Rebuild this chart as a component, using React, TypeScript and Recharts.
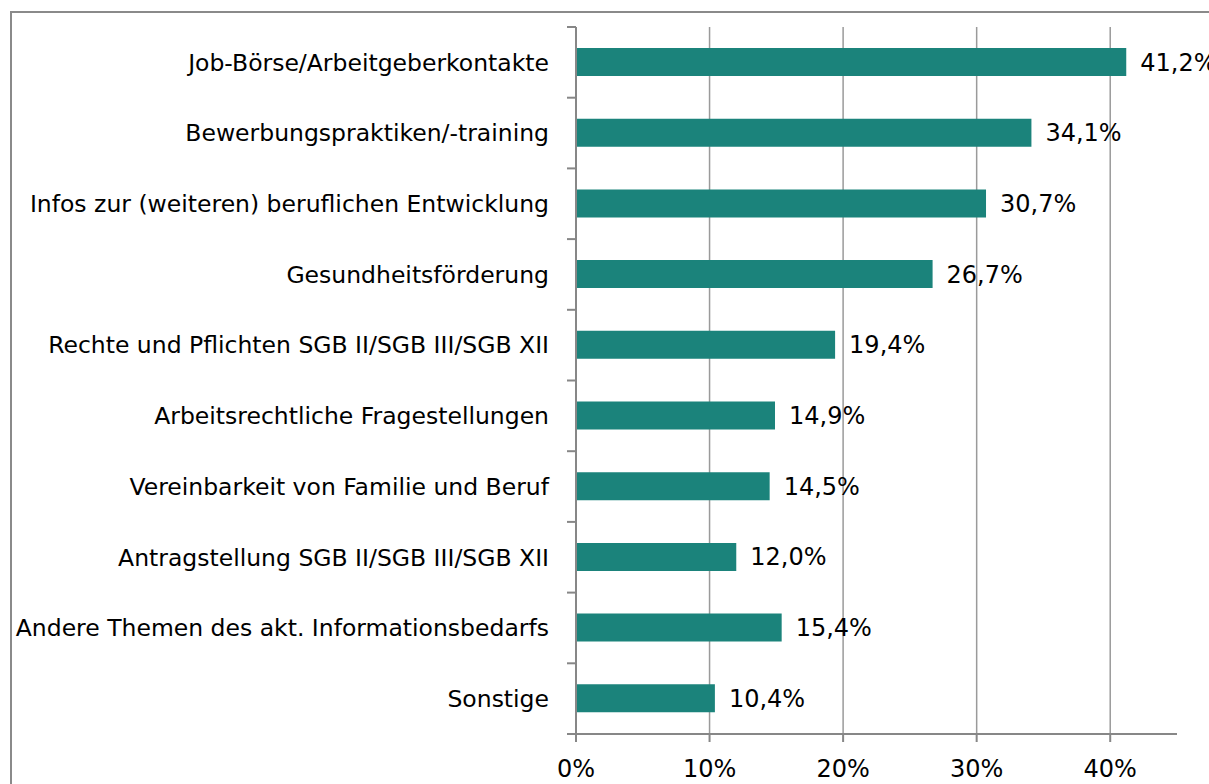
import React from 'react';
import { BarChart, Bar, XAxis, YAxis, CartesianGrid, LabelList } from 'recharts';

const categories = [
  'Job-Börse/Arbeitgeberkontakte',
  'Bewerbungspraktiken/-training',
  'Infos zur (weiteren) beruflichen Entwicklung',
  'Gesundheitsförderung',
  'Rechte und Pflichten SGB II/SGB III/SGB XII',
  'Arbeitsrechtliche Fragestellungen',
  'Vereinbarkeit von Familie und Beruf',
  'Antragstellung SGB II/SGB III/SGB XII',
  'Andere Themen des akt. Informationsbedarfs',
  'Sonstige',
];
const values = [41.2, 34.1, 30.7, 26.7, 19.4, 14.9, 14.5, 12.0, 15.4, 10.4];
const xTicks = [0, 10, 20, 30, 40];
const gridValues = [10, 20, 30, 40];

const data = categories.map((name, i) => ({ name, value: values[i] }));

const FONT = '"DejaVu Sans", sans-serif';
const AXIS = '#878787';
const TICK_SIZE = 9;
const TICK_MARGIN = 18;

const CategoryTick = (props: any) => {
  const { x, y, payload, index, visibleTicksCount } = props;
  const half = payload && typeof payload.offset === 'number' ? payload.offset : 0;
  const axisX = x + TICK_SIZE + TICK_MARGIN;
  const isLast = index === (visibleTicksCount ?? categories.length) - 1;
  return (
    <g>
      <line x1={axisX - TICK_SIZE} x2={axisX} y1={y - half} y2={y - half} stroke={AXIS} strokeWidth={2} />
      {isLast && (
        <line x1={axisX - TICK_SIZE} x2={axisX} y1={y + half} y2={y + half} stroke={AXIS} strokeWidth={2} />
      )}
      <text x={x} y={y} dy="0.355em" textAnchor="end" fill="#000" fontSize={23.5} fontFamily={FONT}>
        {payload.value}
      </text>
    </g>
  );
};

export default function App() {
  return (
    <div style={{ position: 'absolute', left: 0, top: 0, width: 1209, height: 784, background: '#fff', overflow: 'hidden', fontFamily: FONT }}>
      <div style={{ position: 'absolute', left: 10, top: 11, width: 1300, height: 900, borderLeft: '2px solid #8a8a8a', borderTop: '2px solid #8a8a8a' }} />
      <div style={{ position: 'absolute', left: 0, top: 0 }}>
        <BarChart
          width={1209}
          height={784}
          data={data}
          layout="vertical"
          margin={{ top: 27, right: 32, bottom: 0, left: 0 }}
          barCategoryGap={0}
        >
          <CartesianGrid horizontal={false} vertical={true} verticalValues={gridValues} stroke="#9a9a9a" strokeWidth={1.5} />
          <YAxis
            type="category"
            dataKey="name"
            width={576}
            stroke={AXIS}
            axisLine={{ stroke: AXIS, strokeWidth: 2 }}
            tickLine={false}
            tickSize={TICK_SIZE}
            tickMargin={TICK_MARGIN}
            interval={0}
            tick={<CategoryTick />}
          />
          <XAxis
            type="number"
            domain={[0, 45]}
            ticks={xTicks}
            height={50}
            tickFormatter={(v: number) => `${v}%`}
            stroke={AXIS}
            axisLine={{ stroke: AXIS, strokeWidth: 2 }}
            tickLine={{ stroke: AXIS, strokeWidth: 2 }}
            tickSize={8}
            tickMargin={18}
            tick={{ fill: '#000', fontSize: 24, fontFamily: FONT }}
            allowDataOverflow
          />
          <Bar dataKey="value" fill="#1b837b" barSize={28} isAnimationActive={false}>
            <LabelList
              dataKey="value"
              position="right"
              offset={14}
              formatter={(v: number) => `${v.toFixed(1).replace('.', ',')}%`}
              style={{ fill: '#000', fontSize: 24, fontFamily: FONT }}
            />
          </Bar>
        </BarChart>
      </div>
    </div>
  );
}
